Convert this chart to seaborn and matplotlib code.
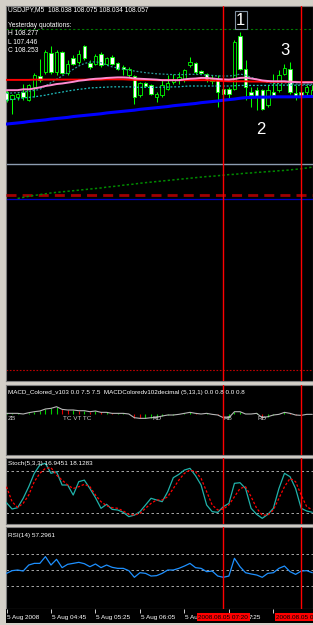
import numpy as np
import pandas as pd
import matplotlib
matplotlib.use("Agg")
import matplotlib.pyplot as plt
import seaborn as sns

# ---------------- data ----------------
open_ = [108.051, 108.027, 108.033, 108.051, 108.021, 108.069, 108.108, 108.123,
         108.192, 108.123, 108.195, 108.120, 108.171, 108.159, 108.216, 108.156,
         108.153, 108.189, 108.153, 108.177, 108.153, 108.141, 108.111, 108.108,
         108.039, 108.081, 108.075, 108.033, 108.039, 108.060, 108.087, 108.093,
         108.093, 108.147, 108.153, 108.126, 108.115, 108.090, 108.093, 108.060,
         108.060, 108.063, 108.253, 108.135, 108.051, 108.057, 108.057, 108.003,
         108.051, 108.057, 108.117, 108.132, 108.048, 108.051, 108.051, 108.038]
high = [108.057, 108.045, 108.048, 108.081, 108.081, 108.120, 108.171, 108.201,
        108.216, 108.201, 108.198, 108.165, 108.183, 108.201, 108.219, 108.165,
        108.189, 108.195, 108.177, 108.183, 108.159, 108.147, 108.141, 108.111,
        108.087, 108.087, 108.081, 108.051, 108.093, 108.111, 108.117, 108.123,
        108.135, 108.177, 108.159, 108.129, 108.120, 108.111, 108.111, 108.075,
        108.069, 108.237, 108.267, 108.165, 108.069, 108.069, 108.063, 108.075,
        108.117, 108.129, 108.153, 108.159, 108.075, 108.069, 108.075, 108.075]
low = [108.015, 107.973, 108.021, 108.021, 108.018, 108.033, 108.087, 108.117,
       108.117, 108.111, 108.117, 108.111, 108.147, 108.153, 108.165, 108.135,
       108.147, 108.141, 108.147, 108.147, 108.129, 108.111, 108.105, 108.009,
       108.033, 108.069, 108.039, 108.015, 108.033, 108.057, 108.081, 108.081,
       108.087, 108.141, 108.117, 108.117, 108.087, 108.081, 107.997, 108.021,
       108.021, 108.057, 108.129, 108.021, 107.997, 107.985, 107.985, 107.997,
       108.033, 108.051, 108.111, 108.045, 108.021, 108.027, 108.039, 108.034]
close = [108.021, 108.039, 108.042, 108.033, 108.075, 108.111, 108.093, 108.195,
         108.123, 108.195, 108.120, 108.153, 108.153, 108.189, 108.174, 108.141,
         108.180, 108.147, 108.171, 108.153, 108.135, 108.135, 108.135, 108.033,
         108.084, 108.072, 108.045, 108.045, 108.075, 108.084, 108.096, 108.105,
         108.129, 108.159, 108.123, 108.120, 108.093, 108.097, 108.051, 108.045,
         108.045, 108.231, 108.135, 108.069, 108.039, 108.033, 107.991, 108.057,
         108.039, 108.111, 108.135, 108.051, 108.031, 108.033, 108.069, 108.057]

red_ma = [108.094, 108.094, 108.094, 108.094, 108.094, 108.095, 108.095, 108.095,
          108.095, 108.095, 108.095, 108.095, 108.095, 108.095, 108.095, 108.095,
          108.095, 108.095, 108.096, 108.096, 108.096, 108.096, 108.095, 108.094,
          108.094, 108.094, 108.094, 108.093, 108.093, 108.093, 108.093, 108.093,
          108.093, 108.093, 108.093, 108.093, 108.093, 108.092, 108.091, 108.090,
          108.089, 108.089, 108.089, 108.089, 108.088, 108.088, 108.088, 108.087,
          108.087, 108.087, 108.087, 108.087, 108.087, 108.086, 108.086, 108.086]
pink_ma = [108.057, 108.057, 108.057, 108.060, 108.060, 108.063, 108.067, 108.072,
           108.075, 108.079, 108.081, 108.084, 108.087, 108.091, 108.093, 108.096,
           108.098, 108.099, 108.101, 108.102, 108.103, 108.103, 108.102, 108.099,
           108.098, 108.097, 108.096, 108.095, 108.093, 108.093, 108.093, 108.093,
           108.096, 108.098, 108.099, 108.101, 108.101, 108.099, 108.097, 108.096,
           108.095, 108.097, 108.101, 108.102, 108.099, 108.096, 108.092, 108.090,
           108.089, 108.089, 108.089, 108.087, 108.086, 108.085, 108.085, 108.085]
blue_ma = [107.935, 107.937, 107.939, 107.941, 107.944, 107.946, 107.948, 107.950,
           107.953, 107.955, 107.957, 107.959, 107.962, 107.964, 107.966, 107.968,
           107.970, 107.972, 107.975, 107.977, 107.979, 107.981, 107.983, 107.985,
           107.988, 107.990, 107.992, 107.994, 107.996, 107.998, 108.001, 108.003,
           108.005, 108.007, 108.009, 108.012, 108.014, 108.016, 108.018, 108.021,
           108.023, 108.025, 108.028, 108.030, 108.031, 108.032, 108.032, 108.032,
           108.033, 108.033, 108.033, 108.033, 108.033, 108.033, 108.034, 108.034]
upper_band = [108.045, 108.047, 108.048, 108.050, 108.053, 108.056, 108.060, 108.072,
              108.084, 108.096, 108.108, 108.120, 108.132, 108.144, 108.153, 108.158,
              108.159, 108.156, 108.147, 108.141, 108.137, 108.133, 108.129, 108.126,
              108.123, 108.120, 108.118, 108.116, 108.115, 108.114, 108.113, 108.113,
              108.113, 108.114, 108.114, 108.113, 108.111, 108.110, 108.108, 108.108,
              108.108, 108.110, 108.115, 108.111, 108.103, 108.096, 108.090, 108.085,
              108.081, 108.081, 108.084, 108.081, 108.079, 108.078, 108.078, 108.078]
lower_band = [108.021, 108.024, 108.026, 108.029, 108.031, 108.033, 108.036, 108.039,
              108.043, 108.047, 108.050, 108.054, 108.057, 108.060, 108.062, 108.065,
              108.066, 108.067, 108.068, 108.069, 108.069, 108.069, 108.069, 108.068,
              108.067, 108.067, 108.067, 108.067, 108.068, 108.068, 108.069, 108.069,
              108.071, 108.072, 108.072, 108.072, 108.072, 108.072, 108.072, 108.072,
              108.072, 108.073, 108.074, 108.074, 108.074, 108.074, 108.074, 108.074,
              108.075, 108.075, 108.075, 108.075, 108.075, 108.075, 108.075, 108.075]
trend_line = [107.667, 107.671, 107.675, 107.678, 107.681, 107.684,
              107.687, 107.689, 107.691, 107.693, 107.695, 107.697, 107.699, 107.701,
              107.703, 107.705, 107.708, 107.710, 107.712, 107.715, 107.717, 107.719,
              107.722, 107.724, 107.726, 107.728, 107.730, 107.732, 107.734, 107.736,
              107.738, 107.740, 107.742, 107.744, 107.746, 107.747, 107.749, 107.751,
              107.753, 107.754, 107.756, 107.758, 107.759, 107.761, 107.762, 107.764,
              107.765, 107.767, 107.768, 107.770, 107.772, 107.774, 107.777, 107.780]
yesterday_high = 108.277
level_gray = 107.790
level_dashed = 107.681
level_blue = 107.665
level_red_dot = 107.049

macd = [0.002, 0.002, 0.002, 0.0007, 0.0033, 0.0053, 0.0067, 0.0107,
        0.012, 0.0153, 0.01, 0.0087, 0.0087, 0.0073, 0.0073, 0.0053,
        0.0067, 0.004, 0.004, 0.002, 0.002, 0.002, 0.0007, -0.0067,
        -0.008, -0.008, -0.0067, -0.006, -0.0033, -0.0013, -0.0013, 0.0,
        0.002, 0.004, 0.002, 0.0007, 0.002, 0.0, -0.0013, -0.0067,
        -0.0067, 0.0053, 0.0053, 0.0007, 0.0007, 0.002, -0.0067, -0.0047,
        -0.0013, 0.0, 0.004, 0.002, -0.0013, -0.002, 0.0, 0.0]
macd_marks = [(0.3, "ZB"), (10.2, "TC VT TC"), (26.2, "RD"), (39.1, "RB"), (45.2, "RD")]

stoch_main = [34.7, 25.7, 27.6, 41, 57.6, 76.7, 88.6, 91,
              76.7, 79, 60, 60, 45.7, 64.8, 67, 55,
              41.9, 26.7, 32.4, 25.2, 24.3, 21, 14.8, 17,
              21.9, 31.4, 41, 38.6, 36.2, 50.5, 70.5, 75.2,
              81.4, 83.8, 73.3, 60, 31.4, 21.9, 21, 29,
              33.8, 62.4, 63.3, 55, 26.7, 18.1, 12.4, 18.1,
              26.7, 55, 76.7, 71.9, 55, 26.7, 22.9, 21]
stoch_signal = [57.6, 36.2, 28, 33.8, 45.7, 64.8, 76.7, 83.8,
                84.8, 74.3, 67, 60, 55, 57.6, 61, 57.6,
                45.7, 36.2, 30.5, 27.6, 26.7, 22.9, 18.1, 17,
                19.5, 26.7, 33.8, 38.6, 38.6, 43.3, 55, 67,
                76.7, 81.4, 79, 69.5, 50.5, 31.4, 24.3, 25.7,
                31.4, 43.3, 55, 57.6, 43.3, 26.7, 17, 17,
                24.3, 41, 57.6, 69.5, 64.8, 45.7, 29, 24.5]
rsi = [45.8, 49.2, 50, 48.7, 56.3, 58.4, 58.4, 66.9,
       56.3, 63.5, 53, 57.2, 58.4, 59.7, 58, 54.2,
       57.6, 53, 56.3, 53.4, 52.1, 52.1, 49.2, 40.8,
       46.6, 45.8, 42.4, 42.9, 45.8, 50, 50, 52.1,
       55, 58.4, 53, 52.1, 47.9, 48.7, 42.4, 40.8,
       42.4, 64.8, 54.2, 46.6, 45, 43.7, 40.8, 45.8,
       46.6, 52.1, 55, 47.9, 44.5, 48.7, 49.2, 46.6]

# tick positions (bar index) and the part of each label left visible
time_ticks = [0, 8, 16, 24, 32, 40, 48]
time_labels = ["5 Aug 2008", "5 Aug 04:45", "5 Aug 05:25", "5 Aug 06:05",
               "5 Au", "7:25", ""]
vlines_at = [39, 53]
vline_labels = ["2008.08.05 07:20", "2008.08.05 08:30"]
annotations = [(42.1, 108.309, "1"), (45.8, 107.917, "2"), (50.1, 108.201, "3")]

header = "USDJPY,M5  108.038 108.075 108.034 108.057"
yq = ["Yesterday quotations:", "H 108.277", "L 107.446", "C 108.253"]
macd_title = "MACD_Colored_v103 0.0 7.5 7.5  MACDColoredv102decimal (5,13,1) 0.0 0.8 0.0 0.8"
stoch_title = "Stoch(5,3,3) 16.9451 18.1283"
rsi_title = "RSI(14) 57.2961"

# ---------------- style ----------------
sns.set_theme(style="dark")
plt.rcParams["font.family"] = ["Liberation Sans", "DejaVu Sans"]

W, H = 313, 625
fig = plt.figure(figsize=(W / 100, H / 100), dpi=100, facecolor="#d4d0c8")
bars = np.arange(len(close))
XMIN, XMAX = -0.09, 55.13


def add_panel(y0, y1, x0=6, x1=313):
    ax = fig.add_axes([x0 / W, 1 - y1 / H, (x1 - x0) / W, (y1 - y0) / H])
    ax.set_facecolor("black")
    ax.set_xlim(XMIN, XMAX)
    ax.set_xticks([])
    ax.set_yticks([])
    ax.grid(False)
    ax.set_xlabel("")
    ax.set_ylabel("")
    for s in ax.spines.values():
        s.set_color("#808080")
        s.set_linewidth(0.8)
    return ax


def ftext(x, y, s, size=4.8, color="white"):
    fig.text(x / W, 1 - y / H, s, fontsize=size, color=color, ha="left", va="center")


def red_vlines(a):
    for xv in vlines_at:
        a.axvline(xv, color="#ff0000", lw=1.0, zorder=6)


RED = "#ff0000"

# ---------------- main panel ----------------
ax = add_panel(6, 381)
ax.set_ylim(107.010, 108.360)
o = np.array(open_); c = np.array(close)
ax.vlines(bars, low, high, color="#00ff00", lw=0.75, zorder=2)
bear = c < o
body_h = np.maximum(np.abs(c - o), 0.0012)
ax.bar(bars, body_h, bottom=np.minimum(o, c), width=0.62,
       color=np.where(bear, "white", "black"), edgecolor="#00ff00",
       linewidth=0.6, zorder=3)

sns.lineplot(x=bars, y=lower_band, ax=ax, color="#20c0c0", lw=0.9,
             linestyle=(0, (1.5, 1.5)), legend=False, zorder=4)
sns.lineplot(x=bars, y=upper_band, ax=ax, color="#2a9a9a", lw=0.9,
             linestyle=(0, (1.5, 1.5)), legend=False, zorder=4)
sns.lineplot(x=bars, y=red_ma, ax=ax, color=RED, lw=1.4, legend=False, zorder=5)
sns.lineplot(x=bars, y=pink_ma, ax=ax, color="#ff8ad0", lw=1.4, legend=False, zorder=5)
sns.lineplot(x=bars, y=blue_ma, ax=ax, color="#0000ff", lw=2.2, legend=False, zorder=5)
sns.lineplot(x=bars[2:], y=trend_line, ax=ax, color="#008a00", lw=1.1,
             linestyle=(0, (1.5, 1.5)), legend=False, zorder=4)

ax.axhline(yesterday_high, color="#007a00", lw=0.8, linestyle=(0, (2, 2)), zorder=2)
ax.axhline(level_gray, color="#8c9cb0", lw=1.0, zorder=2)
ax.axhline(level_blue, color="#0000c8", lw=0.9, zorder=2)
ax.axhline(level_dashed, color="#a00000", lw=2.0, linestyle=(0, (3.6, 2.2)), zorder=3)
ax.axhline(level_red_dot, color="#c00000", lw=0.8, linestyle=(0, (1.5, 1.5)), zorder=2)
red_vlines(ax)
for xa, ya, s in annotations:
    kw = {}
    if s == "1":
        kw["bbox"] = dict(facecolor="none", edgecolor="#8090a0", pad=1.0, lw=0.8)
    ax.text(xa, ya, s, color="white", fontsize=12, ha="center", va="center",
            zorder=7, **kw)

ftext(8, 10, header)
for k, s in enumerate(yq):
    ftext(8, [25.5, 33.5, 42.3, 51][k], s)

# ---------------- MACD panel ----------------
ax2 = add_panel(385, 455)
ax2.set_ylim(-0.0813, 0.0587)
m = np.array(macd)
rising = np.r_[True, m[1:] >= m[:-1]]
ax2.vlines(bars, 0, m, colors=np.where(rising, "#00d000", "#e00000"), lw=0.8, zorder=2)
sns.lineplot(x=bars, y=macd, ax=ax2, color="#b8b8b8", lw=0.8, legend=False, zorder=3)
for xm, s in macd_marks:
    ax2.text(xm, -0.0075, s, color="#c8c8c8", fontsize=4.6, ha="left", va="center")
red_vlines(ax2)
ftext(8, 392.3, macd_title, size=4.5)

# ---------------- Stochastic ----------------
ax3 = add_panel(458, 524)
ax3.set_ylim(4.3, 98.6)
for lv in (20, 80):
    ax3.axhline(lv, color="#c0c0c0", lw=0.6, linestyle=(0, (3, 3)), zorder=1)
sns.lineplot(x=bars, y=stoch_main, ax=ax3, color="#20b2aa", lw=0.9, legend=False, zorder=3)
sns.lineplot(x=bars, y=stoch_signal, ax=ax3, color=RED, lw=0.9,
             linestyle=(0, (2, 1.5)), legend=False, zorder=3)
red_vlines(ax3)
ftext(8, 464, stoch_title, size=4.6)

# ---------------- RSI ----------------
ax4 = add_panel(527, 609)
ax4.set_ylim(0.8, 104.3)
for lv in (30, 50, 70):
    ax4.axhline(lv, color="#c0c0c0", lw=0.6, linestyle=(0, (3, 3)), zorder=1)
sns.lineplot(x=bars, y=rsi, ax=ax4, color="#1e90ff", lw=0.9, legend=False, zorder=3)
red_vlines(ax4)
ftext(8, 536, rsi_title, size=4.6)

# ---------------- time axis ----------------
ax5 = add_panel(609, 623)
ax5.set_ylim(0, 1)
for s in ax5.spines.values():
    s.set_visible(False)
ax5.vlines(time_ticks, 0.72, 1.0, color="#d0d0d0", lw=0.7)
for t, lab in zip(time_ticks, time_labels):
    if not lab:
        continue
    xt = t + 0.15 if lab != "7:25" else 43.6
    ax5.text(xt, 0.42, lab, color="white", fontsize=4.6, ha="left", va="center")
for xv, lab in zip(vlines_at, vline_labels):
    ax5.text(xv, 0.42, lab, color="black", fontsize=4.6, ha="center", va="center",
             bbox=dict(facecolor=RED, edgecolor="none", pad=1.2), zorder=5)

fig.savefig("out.png", dpi=100, facecolor=fig.get_facecolor())
